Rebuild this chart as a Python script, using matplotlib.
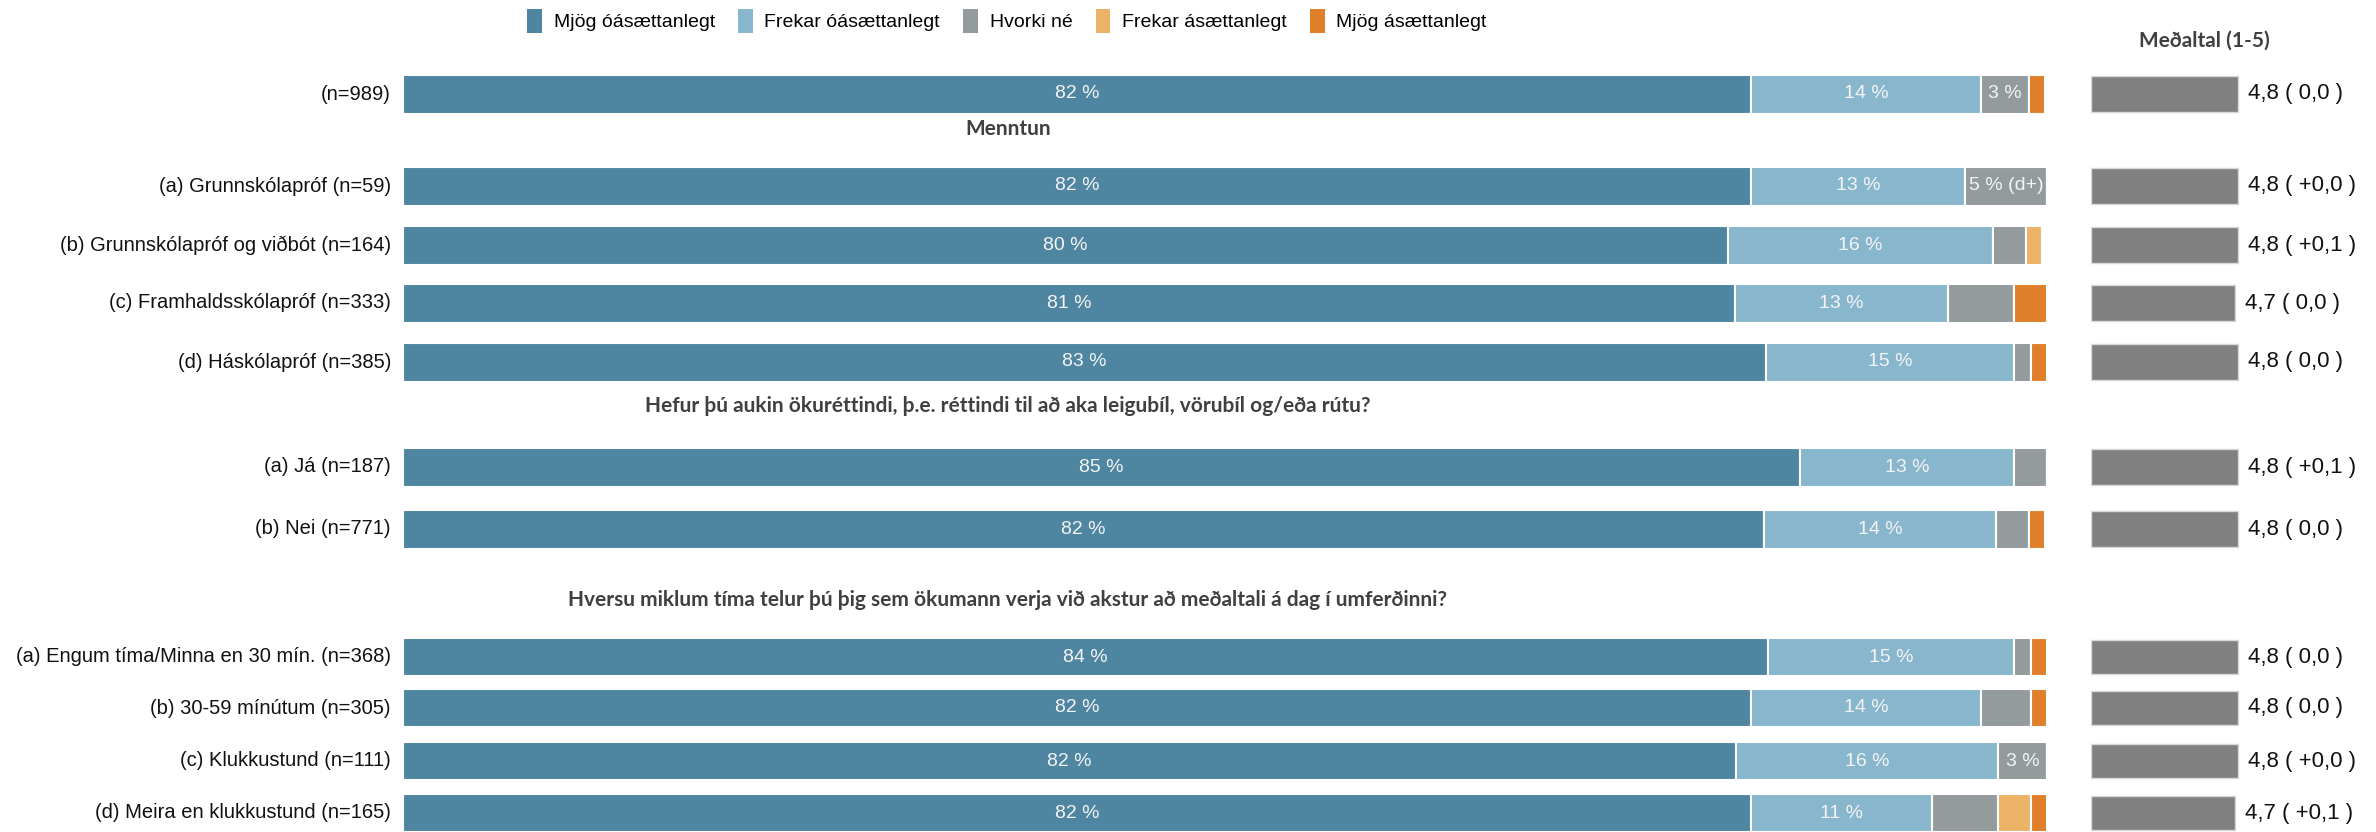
import matplotlib
matplotlib.use("Agg")
import matplotlib.pyplot as plt
import matplotlib.transforms as mtransforms
from matplotlib.patches import Patch

# ---------------- data ----------------
categories = ["Mjög óásættanlegt", "Frekar óásættanlegt", "Hvorki né",
              "Frekar ásættanlegt", "Mjög ásættanlegt"]

row_labels = [
    "(n=989)",
    "(a) Grunnskólapróf (n=59)",
    "(b) Grunnskólapróf og viðbót (n=164)",
    "(c) Framhaldsskólapróf (n=333)",
    "(d) Háskólapróf (n=385)",
    "(a) Já (n=187)",
    "(b) Nei (n=771)",
    "(a) Engum tíma/Minna en 30 mín. (n=368)",
    "(b) 30-59 mínútum (n=305)",
    "(c) Klukkustund (n=111)",
    "(d) Meira en klukkustund (n=165)",
]

mjog_oas = [82.0, 82.0, 80.6, 81.0, 82.9, 85.0, 82.8, 83.0, 82.0, 81.1, 82.0]
frekar_oas = [14.0, 13.0, 16.1, 13.0, 15.1, 13.0, 14.1, 15.0, 14.0, 15.9, 11.0]
hvorki = [2.9, 5.0, 2.0, 4.0, 1.0, 2.0, 2.0, 1.0, 3.0, 3.0, 4.0]
frekar_as = [0.0, 0.0, 1.0, 0.0, 0.0, 0.0, 0.0, 0.0, 0.0, 0.0, 2.0]
mjog_as = [1.0, 0.0, 0.0, 2.0, 1.0, 0.0, 1.0, 1.0, 1.0, 0.0, 1.0]

# in-bar labels as printed in the original
label_mjog_oas = ["82 %", "82 %", "80 %", "81 %", "83 %", "85 %", "82 %", "84 %", "82 %", "82 %", "82 %"]
label_frekar_oas = ["14 %", "13 %", "16 %", "13 %", "15 %", "13 %", "14 %", "15 %", "14 %", "16 %", "11 %"]
label_hvorki = ["3 %", "5 % (d+)", "", "", "", "", "", "", "", "3 %", ""]

means = [4.8, 4.8, 4.8, 4.7, 4.8, 4.8, 4.8, 4.8, 4.8, 4.8, 4.7]
mean_diffs = ["0,0", "+0,0", "+0,1", "0,0", "0,0", "+0,1", "0,0", "0,0", "0,0", "+0,0", "+0,1"]

headings = ["Menntun",
            "Hefur þú aukin ökuréttindi, þ.e. réttindi til að aka leigubíl, vörubíl og/eða rútu?",
            "Hversu miklum tíma telur þú þig sem ökumann verja við akstur að meðaltali á dag í umferðinni?"]
mean_title = "Meðaltal (1-5)"

# ---------------- layout (pixel units of a 2376x832 canvas) ----------------
W, H = 2376, 832
row_y = [94, 186, 245, 303, 362, 467, 529, 657, 708, 761, 813]
row_h = [39, 39, 39, 39, 39, 39, 39, 38, 38, 38, 38]
heading_y = [129, 406, 600]

colors = ["#4e86a1", "#88b6cd", "#949b9c", "#ecb368", "#e07f2a"]
mean_color = "#808080"

plt.rcParams['font.family'] = ['Liberation Sans', 'DejaVu Sans']

fig = plt.figure(figsize=(W / 100, H / 100), dpi=100)

bar_left, bar_right = 403, 2047
ax = fig.add_axes([bar_left / W, 0, (bar_right - bar_left) / W, 1])
ax.set_xlim(0, 100)
ax.set_ylim(H, 0)
ax.axis("off")

series = [mjog_oas, frekar_oas, hvorki, frekar_as, mjog_as]
lefts = [0.0] * len(row_labels)
for s, col in zip(series, colors):
    ax.barh(row_y, s, left=lefts, height=row_h, color=col,
            edgecolor="white", linewidth=1.5)
    lefts = [l + v for l, v in zip(lefts, s)]

# in-bar labels
txt_col = "#f4f4f4"
for i, y in enumerate(row_y):
    starts = [0.0]
    for s in series:
        starts.append(starts[-1] + s[i])
    for k, labs in enumerate([label_mjog_oas, label_frekar_oas, label_hvorki]):
        if labs[i]:
            cx = (starts[k] + starts[k + 1]) / 2
            ax.text(cx, y, labs[i], ha="center", va="center", fontsize=14,
                    color=txt_col)

# row labels
trans_lab = mtransforms.blended_transform_factory(fig.transFigure, ax.transData)
for lab, y in zip(row_labels, row_y):
    ax.text(391 / W, y, lab, transform=trans_lab, ha="right", va="center",
            fontsize=14.5, color="#111111")

# headings
for h, y in zip(headings, heading_y):
    ax.text(1008 / W, y, h, transform=trans_lab, ha="center", va="center",
            fontsize=15, fontweight="bold", color="#404040",
            family=["Lato", "DejaVu Sans"])

# mean panel
m_left = 2091
m_width = 153
axm = fig.add_axes([m_left / W, 0, m_width / W, 1])
axm.set_xlim(0, 5)
axm.set_ylim(H, 0)
axm.axis("off")
axm.barh(row_y, means, height=[h * 0.92 for h in row_h], color=mean_color,
         edgecolor="#d8d8d8", linewidth=1.0)
for m, d, y in zip(means, mean_diffs, row_y):
    axm.annotate(f"{m:.1f}".replace(".", ",") + f" ( {d} )", xy=(m, y),
                 xytext=(7, 0), textcoords="offset points", ha="left",
                 va="center", fontsize=16, color="#111111",
                 annotation_clip=False)

trans_m = mtransforms.blended_transform_factory(fig.transFigure, axm.transData)
axm.text(2204 / W, 41, mean_title, transform=trans_m, ha="center", va="center",
         fontsize=15, fontweight="bold", color="#404040",
         family=["Lato", "DejaVu Sans"])

# legend
handles = [Patch(facecolor=c, edgecolor="none", label=l) for c, l in zip(colors, categories)]
fig.legend(handles=handles, loc="center", bbox_to_anchor=(1007 / W, 1 - 21 / H),
           ncol=5, frameon=False, fontsize=14, handlelength=0.75, handleheight=1.5,
           handletextpad=0.6, columnspacing=1.2, borderaxespad=0)

fig.savefig("out.png", dpi=100)
